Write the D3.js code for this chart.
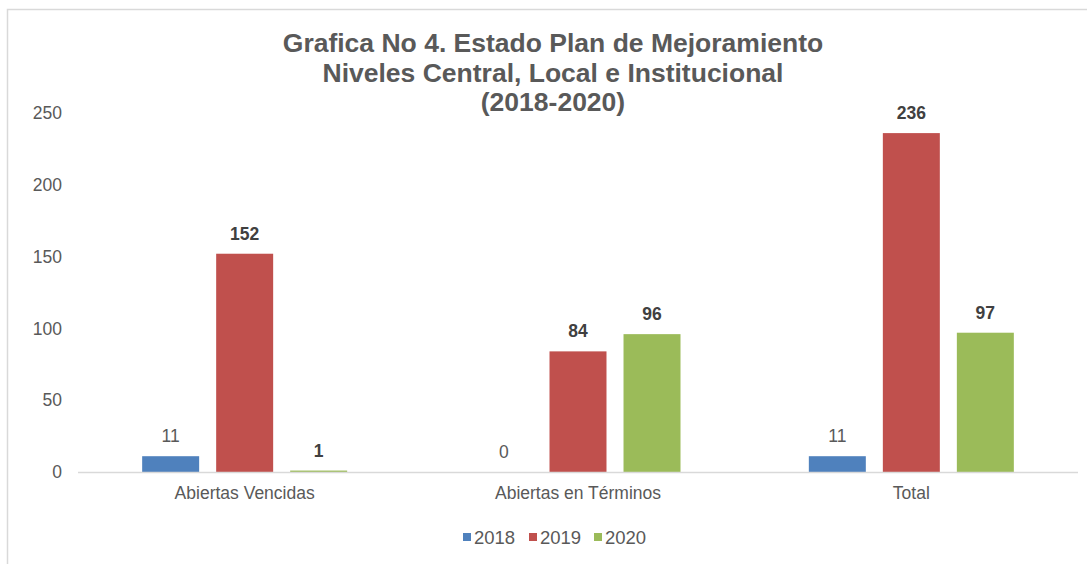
<!DOCTYPE html>
<html>
<head>
<meta charset="utf-8">
<script src="https://cdn.jsdelivr.net/npm/d3@7"></script>
<style>
  body { margin: 0; background: #fff; }
  svg { display: block; font-family: "Liberation Sans", Arial, sans-serif; }
</style>
</head>
<body>
<svg id="chart" width="1087" height="564"></svg>
<script>
// data
const categories = ['Abiertas Vencidas', 'Abiertas en Términos', 'Total'];
const years = ['2018', '2019', '2020'];
const values2018 = [11, 0, 11];
const values2019 = [152, 84, 236];
const values2020 = [1, 96, 97];
const yTicks = [0, 50, 100, 150, 200, 250];
const titleLines = ['Grafica No 4. Estado Plan de Mejoramiento', 'Niveles Central, Local e Institucional', '(2018-2020)'];

const series = [values2018, values2019, values2020];
const colors = d3.scaleOrdinal().domain(years).range(['#4f81bd', '#c0504d', '#9bbb59']);

const svg = d3.select('#chart');

// frame around the chart area
svg.append('rect')
  .attr('x', 7.5).attr('y', 9.5)
  .attr('width', 1100).attr('height', 600)
  .attr('fill', 'none')
  .attr('stroke', '#d9d9d9')
  .attr('stroke-width', 1.5);

const plotLeft = 78, plotRight = 1078, plotTop = 113, plotBottom = 472;

let x0 = d3.scaleBand().domain(categories).range([plotLeft, plotRight]).padding(0);
let x1 = d3.scaleBand().domain(years)
  .range([0, x0.bandwidth()])
  .paddingInner(0.23)
  .paddingOuter(0.867);
let y = d3.scaleLinear().domain([0, 250]).range([plotBottom, plotTop]);

// title
const title = svg.append('text')
  .attr('text-anchor', 'middle')
  .attr('font-size', 26.5)
  .attr('font-weight', 'bold')
  .attr('fill', '#595959');
titleLines.forEach((line, i) => {
  title.append('tspan').attr('x', 553).attr('y', 52 + i * 29.5).text(line);
});

// y axis labels (no line)
const yAxis = svg.append('g')
  .attr('transform', `translate(${plotLeft - 16},0)`)
  .call(d3.axisLeft(y).tickValues(yTicks).tickSize(0).tickPadding(0));
yAxis.select('.domain').remove();
yAxis.selectAll('text')
  .attr('font-size', 17.5)
  .attr('font-family', '"Liberation Sans", Arial, sans-serif')
  .attr('fill', '#595959');

// bars
const groups = svg.append('g')
  .selectAll('g')
  .data(categories)
  .join('g')
  .attr('transform', (d) => `translate(${x0(d)},0)`);

groups.selectAll('rect')
  .data((d, ci) => years.map((yr, si) => ({ year: yr, value: series[si][ci] })))
  .join('rect')
  .attr('x', (d) => x1(d.year))
  .attr('y', (d) => y(d.value))
  .attr('width', x1.bandwidth())
  .attr('height', (d) => plotBottom - y(d.value))
  .attr('fill', (d) => colors(d.year));

// value labels
groups.selectAll('text')
  .data((d, ci) => years.map((yr, si) => ({ year: yr, value: series[si][ci] })))
  .join('text')
  .attr('x', (d) => x1(d.year) + x1.bandwidth() / 2)
  .attr('y', (d) => y(d.value) - 14)
  .attr('text-anchor', 'middle')
  .attr('font-size', 17.5)
  .attr('font-weight', (d) => d.year === '2018' ? 'normal' : 'bold')
  .attr('fill', (d) => d.year === '2018' ? '#595959' : '#404040')
  .text((d) => d.value);

// baseline
svg.append('line')
  .attr('x1', plotLeft).attr('x2', plotRight)
  .attr('y1', y(0) + 0.5).attr('y2', y(0) + 0.5)
  .attr('stroke', '#d9d9d9')
  .attr('stroke-width', 1.5);

// category labels
const xAxis = svg.append('g')
  .attr('transform', `translate(0,${plotBottom})`)
  .call(d3.axisBottom(x0).tickSize(0).tickPadding(0));
xAxis.select('.domain').remove();
xAxis.selectAll('text')
  .attr('dy', null)
  .attr('y', 27)
  .attr('font-size', 17.5)
  .attr('font-family', '"Liberation Sans", Arial, sans-serif')
  .attr('fill', '#595959');

// legend
const legendX = [463, 529, 594];
const legend = svg.append('g');
years.forEach((yr, i) => {
  legend.append('rect')
    .attr('x', legendX[i]).attr('y', 533)
    .attr('width', 8).attr('height', 8)
    .attr('fill', colors(yr));
  legend.append('text')
    .attr('x', legendX[i] + 11).attr('y', 543.5)
    .attr('font-size', 18.5)
    .attr('fill', '#595959')
    .text(yr);
});
</script>
</body>
</html>
